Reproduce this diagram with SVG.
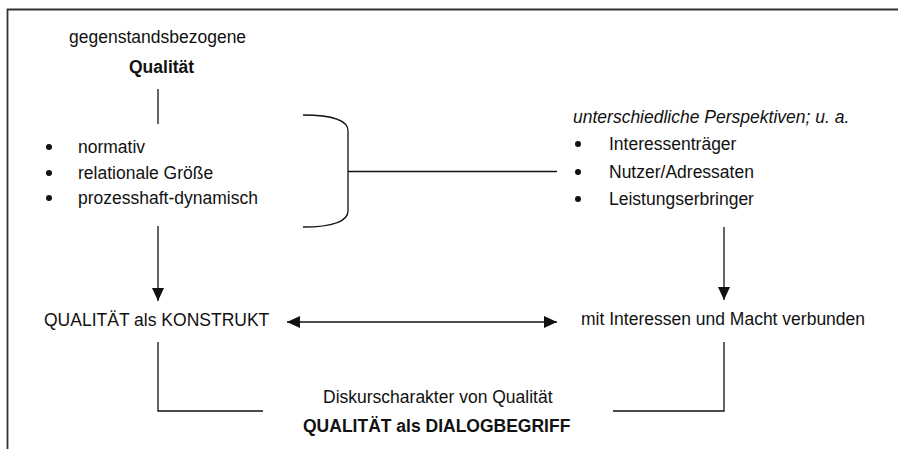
<svg xmlns="http://www.w3.org/2000/svg" width="898" height="449" viewBox="0 0 898 449">
  <style>
    .t { font-family: "Liberation Sans", Arial, sans-serif; font-size: 17.5px; fill: #111; }
    .b { font-weight: bold; }
    .i { font-style: italic; }
    .ln { fill: none; stroke: #111; stroke-width: 1.3; }
    .dot { fill: #111; }
  </style>
  <defs>
    <marker id="ah" markerUnits="userSpaceOnUse" markerWidth="14" markerHeight="13" refX="13" refY="6" orient="auto-start-reverse">
      <path d="M0,0 L13,6 L0,12 Z" fill="#111"/>
    </marker>
  </defs>
  <rect width="898" height="449" fill="#fff"/>
  <g id="frame">
    <path d="M7.5,449 L7.5,9.5 L898,9.5" fill="none" stroke="#333" stroke-width="1.8"/>
  </g>
  <g id="node-gegenstand">
    <text class="t" x="69" y="43">gegenstandsbezogene</text>
    <text class="t b" x="129" y="73">Qualität</text>
  </g>
  <g id="node-merkmale">
    <circle class="dot" cx="49" cy="147" r="3"/>
    <circle class="dot" cx="49" cy="173" r="3"/>
    <circle class="dot" cx="49" cy="198" r="3"/>
    <text class="t" x="78" y="153">normativ</text>
    <text class="t" x="78" y="179">relationale Größe</text>
    <text class="t" x="78" y="204">prozesshaft-dynamisch</text>
  </g>
  <g id="node-perspektiven">
    <text class="t i" x="573" y="123">unterschiedliche Perspektiven; u. a.</text>
    <circle class="dot" cx="578" cy="144" r="3"/>
    <circle class="dot" cx="578" cy="172" r="3"/>
    <circle class="dot" cx="578" cy="199" r="3"/>
    <text class="t" x="609" y="150">Interessenträger</text>
    <text class="t" x="609" y="178">Nutzer/Adressaten</text>
    <text class="t" x="609" y="205">Leistungserbringer</text>
  </g>
  <g id="node-konstrukt">
    <text class="t" x="44" y="326">QUALITÄT als KONSTRUKT</text>
  </g>
  <g id="node-macht">
    <text class="t" x="581" y="325">mit Interessen und Macht verbunden</text>
  </g>
  <g id="node-dialog">
    <text class="t" x="323" y="403">Diskurscharakter von Qualität</text>
    <text class="t b" x="303" y="432">QUALITÄT als DIALOGBEGRIFF</text>
  </g>
  <g id="connectors">
    <line class="ln" x1="158" y1="89" x2="158" y2="124"/>
    <path class="ln" d="M303,115 C333,115 348,121 348,131 L348,211 C348,221 333,227 303,227"/>
    <line class="ln" x1="348" y1="171.5" x2="557" y2="171.5"/>
    <line class="ln" x1="158" y1="226" x2="158" y2="301" marker-end="url(#ah)"/>
    <line class="ln" x1="724" y1="227" x2="724" y2="300" marker-end="url(#ah)"/>
    <line class="ln" x1="287" y1="322" x2="557" y2="322" marker-start="url(#ah)" marker-end="url(#ah)"/>
    <path class="ln" d="M158,342 L158,411 L263,411"/>
    <path class="ln" d="M724,342 L724,411 L613,411"/>
  </g>
</svg>
